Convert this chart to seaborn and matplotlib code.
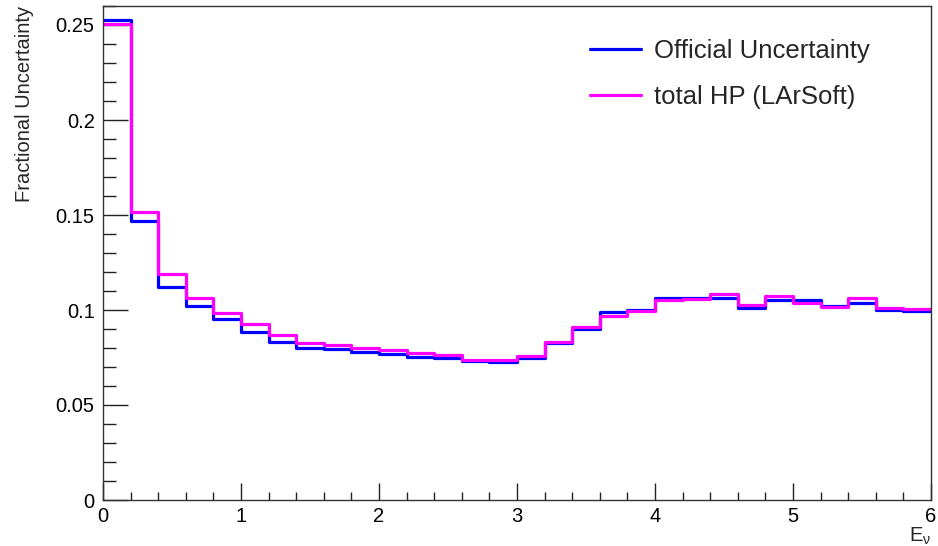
import numpy as np
import pandas as pd
import matplotlib
matplotlib.use("Agg")
import matplotlib.pyplot as plt
from matplotlib.ticker import MultipleLocator, FixedLocator
import seaborn as sns

# Neutrino energy binning (30 bins of 0.2 from 0 to 6)
bin_edges = np.round(np.arange(0, 6.01, 0.2), 2)

official_unc = [0.2528, 0.1466, 0.1119, 0.1021, 0.0951, 0.0886, 0.0833, 0.0802,
                0.0793, 0.0777, 0.0768, 0.0753, 0.0746, 0.0730, 0.0725, 0.0749,
                0.0827, 0.0898, 0.0990, 0.0998, 0.1065, 0.1065, 0.1061, 0.1009,
                0.1053, 0.1053, 0.1023, 0.1039, 0.1000, 0.0995]

total_hp = [0.2505, 0.1517, 0.1189, 0.1061, 0.0986, 0.0926, 0.0868, 0.0828,
            0.0816, 0.0798, 0.0790, 0.0775, 0.0763, 0.0737, 0.0735, 0.0760,
            0.0830, 0.0912, 0.0966, 0.0993, 0.1055, 0.1058, 0.1084, 0.1026,
            0.1075, 0.1039, 0.1014, 0.1061, 0.1009, 0.1004]

series_names = ["Official Uncertainty", "total HP (LArSoft)"]
series_colors = ["#0000ff", "#ff00ff"]

y_ticks = [0, 0.05, 0.1, 0.15, 0.2, 0.25]
y_tick_labels = ["0", "0.05", "0.1", "0.15", "0.2", "0.25"]
x_ticks = [0, 1, 2, 3, 4, 5, 6]

sns.set_style("ticks")
plt.rcParams["font.family"] = ["Liberation Sans", "DejaVu Sans"]
plt.rcParams["mathtext.fontset"] = "custom"
plt.rcParams["mathtext.rm"] = "Liberation Sans"
plt.rcParams["mathtext.default"] = "regular"

# Histogram outlines: repeat the last bin value at the upper edge
frames = []
for name, vals in zip(series_names, [official_unc, total_hp]):
    frames.append(pd.DataFrame({
        "E": bin_edges,
        "unc": np.append(vals, vals[-1]),
        "series": name,
    }))
df = pd.concat(frames, ignore_index=True)

fig = plt.figure(figsize=(9.38, 5.46), dpi=100)
ax = fig.add_axes([103 / 938, 1 - 500 / 546, 828 / 938, 494 / 546])

sns.lineplot(data=df, x="E", y="unc", hue="series", hue_order=series_names,
             palette=series_colors, drawstyle="steps-post", linewidth=2.3,
             estimator=None, sort=False, ax=ax)

ax.set_xlim(0, 6)
ax.set_ylim(0, 0.26)
ax.xaxis.set_major_locator(FixedLocator(x_ticks))
ax.xaxis.set_minor_locator(MultipleLocator(0.2))
ax.yaxis.set_major_locator(FixedLocator(y_ticks))
ax.set_yticklabels(y_tick_labels)
ax.yaxis.set_minor_locator(MultipleLocator(0.01))

ax.tick_params(axis="both", which="both", direction="in", colors="#222222",
               labelcolor="black", width=1.0, labelsize=14.5)
ax.tick_params(axis="y", which="major", length=18, pad=6)
ax.tick_params(axis="y", which="minor", length=9)
ax.tick_params(axis="x", which="major", length=12, pad=5)
ax.tick_params(axis="x", which="minor", length=6)

for side in ["left", "right", "top", "bottom"]:
    ax.spines[side].set_visible(True)
    ax.spines[side].set_color("#333333")
    ax.spines[side].set_linewidth(1.0)

ax.set_ylabel("Fractional Uncertainty", loc="top", fontsize=14.5)
ax.yaxis.set_label_coords(-0.083, 1.0)
ax.set_xlabel(r"E$_{\nu}$", loc="right", fontsize=14.5)
ax.xaxis.set_label_coords(1.0, -0.052)

leg = ax.legend(loc="center left", bbox_to_anchor=(0.588, 0.862), frameon=False,
                fontsize=18.5, handlelength=2.0, handletextpad=0.5,
                labelspacing=0.88, borderpad=0, borderaxespad=0)
for line in leg.get_lines():
    line.set_linewidth(2.3)

fig.savefig("out.png", dpi=100)
